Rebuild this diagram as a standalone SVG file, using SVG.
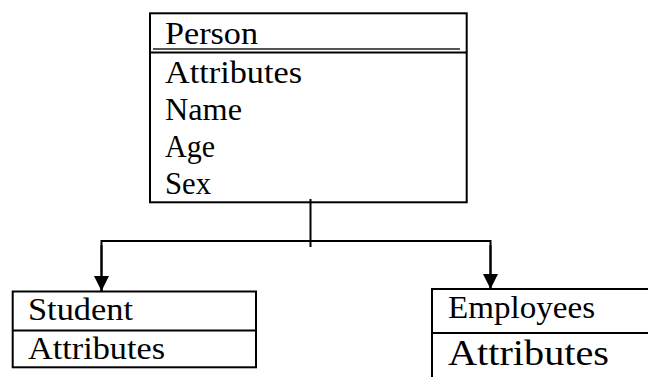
<svg xmlns="http://www.w3.org/2000/svg" width="648" height="377" viewBox="0 0 648 377">
  <style>
    .box { fill: none; stroke: #000; stroke-width: 2; }
    .rule { stroke: #000; stroke-width: 2; }
    .txt { font-family: "Liberation Serif", "Times New Roman", serif; font-size: 32px; fill: #000; }
    .big { font-size: 36px; }
    .wire { fill: none; stroke: #000; stroke-width: 2; }
  </style>
  <defs>
    <marker id="arrow" markerUnits="userSpaceOnUse" markerWidth="16" markerHeight="16" refX="15" refY="7.5" orient="auto">
      <path d="M0,0 L15,7.5 L0,15 Z" fill="#000"/>
    </marker>
  </defs>

  <rect width="648" height="377" fill="#fff"/>

  <!-- superclass -->
  <g id="person">
    <rect class="box" x="150" y="13.3" width="316.7" height="189"/>
    <text class="txt" x="165" y="44" textLength="93" lengthAdjust="spacingAndGlyphs">Person</text>
    <line x1="153" y1="49" x2="460" y2="49" stroke="#555" stroke-width="2"/>
    <line class="rule" x1="150" y1="52.5" x2="466.7" y2="52.5"/>
    <text class="txt" x="165" y="83" textLength="137" lengthAdjust="spacingAndGlyphs">Attributes</text>
    <text class="txt" x="165" y="120" textLength="77" lengthAdjust="spacingAndGlyphs">Name</text>
    <text class="txt" x="165" y="157" textLength="50" lengthAdjust="spacingAndGlyphs">Age</text>
    <text class="txt" x="165" y="194" textLength="46" lengthAdjust="spacingAndGlyphs">Sex</text>
  </g>

  <!-- subclasses -->
  <g id="student">
    <rect class="box" x="12.7" y="291.5" width="243.3" height="75.8"/>
    <line class="rule" x1="12.7" y1="330.5" x2="256" y2="330.5"/>
    <text class="txt" x="28" y="320" textLength="105" lengthAdjust="spacingAndGlyphs">Student</text>
    <text class="txt" x="28" y="359" textLength="137" lengthAdjust="spacingAndGlyphs">Attributes</text>
  </g>

  <g id="employees">
    <path class="box" d="M650,289 H432 V380"/>
    <line class="rule" x1="432" y1="333" x2="650" y2="333"/>
    <text class="txt" x="448" y="318" textLength="147" lengthAdjust="spacingAndGlyphs">Employees</text>
    <text class="txt big" x="448" y="365" textLength="161" lengthAdjust="spacingAndGlyphs">Attributes</text>
  </g>

  <!-- inheritance connectors -->
  <g id="connectors">
    <line class="wire" x1="310.5" y1="199" x2="310.5" y2="247"/>
    <path class="wire" d="M101.5,291 V241 H490.5 V289"/>
    <line class="wire" x1="101.5" y1="245" x2="101.5" y2="291" marker-end="url(#arrow)"/>
    <line class="wire" x1="490.5" y1="245" x2="490.5" y2="289" marker-end="url(#arrow)"/>
  </g>
</svg>
